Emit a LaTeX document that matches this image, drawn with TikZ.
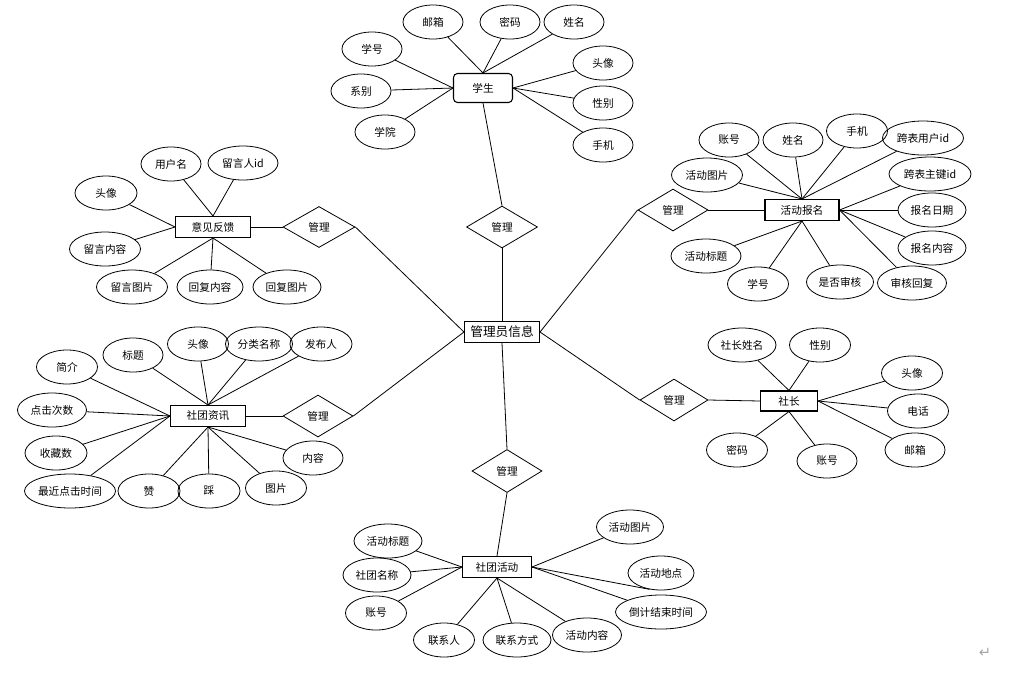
\documentclass[tikz,border=0pt]{standalone}
\usepackage{fontspec}
\setmainfont{Noto Sans CJK SC}
\newfontfamily\symfont{DejaVu Sans}
\usetikzlibrary{shapes.geometric}
\begin{document}
\begin{tikzpicture}[x=0.75pt,y=-0.75pt,
  ew/.style={minimum width=#1*0.75pt},
  eh/.style={minimum height=#1*0.75pt},
  attr/.style={ellipse, draw, line width=0.6pt, inner sep=0pt, minimum width=45pt, minimum height=25.5pt, font=\fontsize{8}{9}\selectfont},
  ent/.style={rectangle, draw, line width=0.8pt, inner sep=0pt, minimum height=15.75pt, font=\fontsize{8}{9}\selectfont},
  rel/.style={diamond, draw, line width=0.6pt, inner sep=0pt, minimum width=52.5pt, minimum height=31.5pt, font=\fontsize{8}{9}\selectfont},
  link/.style={draw, line width=0.6pt}]
\useasboundingbox (0,0) rectangle (1011,676);

% central entity
\node[ent, ew=75, font=\fontsize{9.5}{10}\selectfont] (mg) at (502,332) {管理员信息};

% relationships
\node[rel, ew=71, eh=42] (r1) at (502,227) {管理};
\node[rel, ew=72, eh=41] (r2) at (319,227) {管理};
\node[rel, ew=70, eh=42] (r3) at (318,416) {管理};
\node[rel, ew=70, eh=42] (r4) at (673,210) {管理};
\node[rel, ew=68, eh=42] (r5) at (674,400) {管理};
\node[rel, ew=70, eh=43] (r6) at (507,471) {管理};

% entities
\node[ent, rounded corners=3pt, ew=59, eh=29] (stu) at (483,88) {学生};
\node[ent, ew=75] (fb) at (213,227) {意见反馈};
\node[ent, ew=75] (nw) at (208,416) {社团资讯};
\node[ent, ew=74] (sg) at (802,210) {活动报名};
\node[ent, ew=57, eh=20] (pr) at (789,401) {社长};
\node[ent, ew=69] (ac) at (497,567) {社团活动};

% relationship links
\draw[link] (stu.south) -- (r1.north);
\draw[link] (r1.south) -- (mg.north);
\draw[link] (mg.west) -- (r2.east);
\draw[link] (mg.west) -- (r3.east);
\draw[link] (mg.east) -- (r4.west);
\draw[link] (mg.east) -- (r5.west);
\draw[link] (mg.south) -- (r6.north);
\draw[link] (r2.west) -- (fb.east);
\draw[link] (r3.west) -- (nw.east);
\draw[link] (r4.east) -- (sg.west);
\draw[link] (r5.east) -- (pr.west);
\draw[link] (r6.south) -- (ac.north);

% student attributes
\node[attr] (s1) at (433,22) {邮箱};
\node[attr] (s2) at (510,22) {密码};
\node[attr] (s3) at (574,22) {姓名};
\node[attr] (s4) at (372,49) {学号};
\node[attr] (s5) at (361,91) {系别};
\node[attr] (s6) at (385,132) {学院};
\node[attr] (s7) at (603,63) {头像};
\node[attr] (s8) at (603,103) {性别};
\node[attr] (s9) at (603,145) {手机};
\foreach \a in {s1,s2,s3} \draw[link] (stu.north) -- (\a);
\foreach \a in {s4,s5,s6} \draw[link] (stu.west) -- (\a);
\foreach \a in {s7,s8,s9} \draw[link] (stu.east) -- (\a);

% signup attributes
\node[attr, ew=60] (g1) at (729,140) {账号};
\node[attr, ew=60] (g2) at (793,140) {姓名};
\node[attr, ew=61] (g3) at (857,131) {手机};
\node[attr, ew=81] (g4) at (923,138) {跨表用户id};
\node[attr, ew=71] (g5) at (707,175) {活动图片};
\node[attr, ew=82] (g6) at (930,174) {跨表主键id};
\node[attr, ew=68] (g7) at (932,210) {报名日期};
\node[attr, ew=68] (g8) at (932,248) {报名内容};
\node[attr, ew=70] (g9) at (706,256) {活动标题};
\node[attr, ew=61] (g10) at (758,284) {学号};
\node[attr, ew=67] (g11) at (840,282) {是否审核};
\node[attr, ew=69] (g12) at (912,283) {审核回复};
\foreach \a in {g1,g2,g3,g4,g5} \draw[link] (sg.north) -- (\a);
\foreach \a in {g6,g7,g8,g12} \draw[link] (sg.east) -- (\a);
\foreach \a in {g9,g10,g11} \draw[link] (sg.south) -- (\a);

% feedback attributes
\node[attr, ew=60] (f1) at (171,164) {用户名};
\node[attr, ew=70] (f2) at (243,163) {留言人id};
\node[attr, ew=62] (f3) at (106,193) {头像};
\node[attr, ew=71] (f4) at (105,249) {留言内容};
\node[attr, ew=71] (f5) at (132,287) {留言图片};
\node[attr, ew=66] (f6) at (210,287) {回复内容};
\node[attr, ew=68] (f7) at (287,287) {回复图片};
\foreach \a in {f1,f2} \draw[link] (fb.north) -- (\a);
\foreach \a in {f3,f4} \draw[link] (fb.west) -- (\a);
\foreach \a in {f5,f6,f7} \draw[link] (fb.south) -- (\a);

% news attributes
\node[attr, ew=61] (n1) at (67,367) {简介};
\node[attr, ew=60] (n2) at (133,355) {标题};
\node[attr, ew=61] (n3) at (198,344) {头像};
\node[attr, ew=67] (n4) at (259,344) {分类名称};
\node[attr, ew=62] (n5) at (321,344) {发布人};
\node[attr, ew=69] (n6) at (52,410) {点击次数};
\node[attr, ew=62] (n7) at (56,453) {收藏数};
\node[attr, ew=91] (n8) at (70,491) {最近点击时间};
\node[attr, ew=62] (n9) at (149,491) {赞};
\node[attr, ew=62] (n10) at (209,491) {踩};
\node[attr, ew=61] (n11) at (276,488) {图片};
\node[attr, ew=60] (n12) at (313,458) {内容};
\foreach \a in {n2,n3,n4,n5} \draw[link] (nw.north) -- (\a);
\foreach \a in {n1,n6,n7,n8} \draw[link] (nw.west) -- (\a);
\foreach \a in {n9,n10,n11,n12} \draw[link] (nw.south) -- (\a);

% president attributes
\node[attr, ew=68] (p1) at (742,345) {社长姓名};
\node[attr, ew=61] (p2) at (820,345) {性别};
\node[attr, ew=61] (p3) at (912,373) {头像};
\node[attr, ew=61] (p4) at (918,411) {电话};
\node[attr, ew=60] (p5) at (915,450) {邮箱};
\node[attr, ew=61] (p6) at (737,450) {密码};
\node[attr, ew=60] (p7) at (827,461) {账号};
\foreach \a in {p1,p2} \draw[link] (pr.north) -- (\a);
\foreach \a in {p3,p4,p5} \draw[link] (pr.east) -- (\a);
\foreach \a in {p6,p7} \draw[link] (pr.south) -- (\a);

% activity attributes
\node[attr, ew=68] (a1) at (388,541) {活动标题};
\node[attr, ew=68] (a2) at (377,575) {社团名称};
\node[attr, ew=61] (a3) at (376,613) {账号};
\node[attr, ew=61] (a4) at (444,640) {联系人};
\node[attr, ew=68] (a5) at (517,640) {联系方式};
\node[attr, ew=69] (a6) at (587,635) {活动内容};
\node[attr, ew=67] (a7) at (630,527) {活动图片};
\node[attr, ew=66] (a8) at (661,573) {活动地点};
\node[attr, ew=91] (a9) at (661,612) {倒计结束时间};
\foreach \a in {a1,a2,a3} \draw[link] (ac.west) -- (\a);
\foreach \a in {a4,a5,a6} \draw[link] (ac.south) -- (\a);
\draw[link] (ac.east) -- (a7);
\draw[link] (ac.east) -- (a8.235);
\draw[link] (ac.east) -- (a9);

% paragraph mark
\node[text=gray!70, font=\symfont\fontsize{11}{11}\selectfont] (pm) at (985,653) {↵};
\end{tikzpicture}
\end{document}
